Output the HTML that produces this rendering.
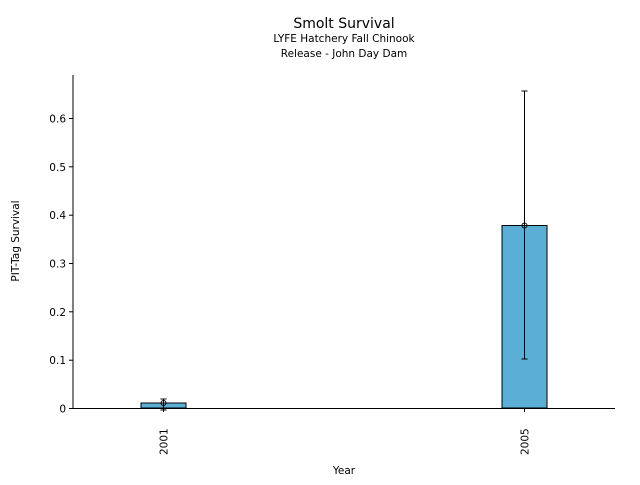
<!DOCTYPE html>
<html><head><style>body{margin:0;background:#fff}</style></head><body>
<svg width="640" height="480" xmlns="http://www.w3.org/2000/svg" font-family="DejaVu Sans, Liberation Sans, sans-serif">
<rect width="640" height="480" fill="#fff"/>
<text x="344" y="28" font-size="14" text-anchor="middle">Smolt Survival</text>
<text x="344" y="42" font-size="10.5" text-anchor="middle">LYFE Hatchery Fall Chinook</text>
<text x="344" y="57" font-size="10.5" text-anchor="middle">Release - John Day Dam</text>
<rect x="141" y="403" width="45" height="5" fill="#5bafd6" stroke="#000" stroke-width="1"/>
<rect x="502" y="225.5" width="45" height="182.5" fill="#5bafd6" stroke="#000" stroke-width="1"/>
<g stroke="#000" stroke-width="1" fill="none">
<line x1="163.5" y1="399" x2="163.5" y2="410"/><line x1="160.5" y1="399" x2="166.5" y2="399"/><line x1="160.5" y1="410" x2="166.5" y2="410"/>
<circle cx="163.5" cy="403" r="2.5"/>
<line x1="524.5" y1="91" x2="524.5" y2="359"/><line x1="521.5" y1="91" x2="527.5" y2="91"/><line x1="521.5" y1="359" x2="527.5" y2="359"/>
<circle cx="524.5" cy="225.5" r="2.5"/>
<line x1="73" y1="75" x2="73" y2="408.5"/><line x1="72.5" y1="408.5" x2="615" y2="408.5"/>
<line x1="69" y1="408.5" x2="73" y2="408.5"/><line x1="69" y1="360.2" x2="73" y2="360.2"/><line x1="69" y1="311.8" x2="73" y2="311.8"/><line x1="69" y1="263.5" x2="73" y2="263.5"/><line x1="69" y1="215.2" x2="73" y2="215.2"/><line x1="69" y1="166.8" x2="73" y2="166.8"/><line x1="69" y1="118.5" x2="73" y2="118.5"/>
<line x1="163.5" y1="408" x2="163.5" y2="412"/><line x1="524.5" y1="408" x2="524.5" y2="412"/>
</g>
<g font-size="10.5" text-anchor="end">
<text x="66" y="412.5">0</text><text x="66" y="364.2">0.1</text><text x="66" y="315.8">0.2</text><text x="66" y="267.5">0.3</text><text x="66" y="219.2">0.4</text><text x="66" y="170.8">0.5</text><text x="66" y="122.5">0.6</text>
</g>
<text font-size="10.5" transform="translate(167.5,455) rotate(-90)">2001</text>
<text font-size="10.5" transform="translate(528.5,455) rotate(-90)">2005</text>
<text x="344" y="474" font-size="10.5" text-anchor="middle">Year</text>
<text font-size="10.5" text-anchor="middle" transform="translate(19,241) rotate(-90)">PIT-Tag Survival</text>
</svg>
</body></html>
